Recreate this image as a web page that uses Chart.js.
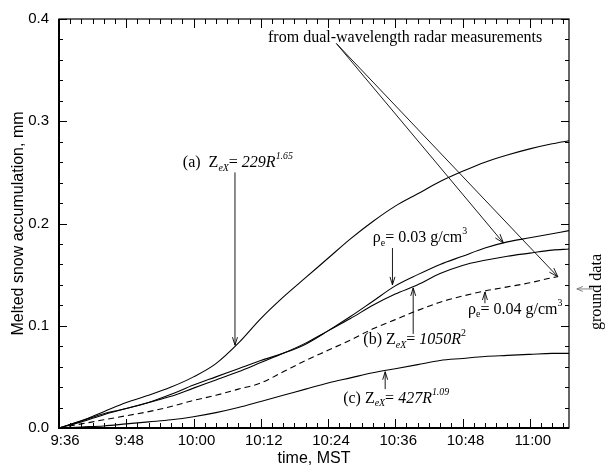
<!DOCTYPE html>
<html><head><meta charset="utf-8">
<script src="https://cdn.jsdelivr.net/npm/chart.js@4"></script>
<style>html,body{margin:0;padding:0;background:#fff}#wrap{width:605px;height:469px;position:relative}</style>
</head><body><div id="wrap"><canvas id="c"></canvas></div>
<script>
// minutes after 9:36 MST
const timeMinutes = [0,4,8,12,16,20,24,28,32,36,40,44,48,52,56,60,64,68,72,76,80,84,88,91];
const timeMinutesDashed = [0,4,8,12,16,20,24,28,32,36,40,44,48,52,56,60,64,68,72,76,80,84,88,89];
const seriesA229 = [0,0.007,0.016,0.025,0.032,0.040,0.050,0.063,0.083,0.107,0.128,0.147,0.166,0.185,0.202,0.217,0.229,0.241,0.251,0.260,0.267,0.273,0.278,0.281];
const seriesRho003 = [0,0.007,0.014,0.019,0.025,0.033,0.042,0.050,0.058,0.066,0.073,0.082,0.095,0.109,0.124,0.139,0.150,0.160,0.168,0.176,0.182,0.186,0.190,0.193];
const seriesB1050 = [0,0.006,0.013,0.019,0.025,0.031,0.039,0.047,0.055,0.064,0.073,0.083,0.095,0.107,0.120,0.131,0.140,0.151,0.159,0.164,0.168,0.171,0.174,0.175];
const seriesRho004 = [0,0.004,0.008,0.012,0.016,0.021,0.027,0.032,0.038,0.044,0.055,0.066,0.076,0.086,0.097,0.106,0.115,0.123,0.129,0.134,0.138,0.142,0.147,0.148];
const seriesC427 = [0,0.001,0.002,0.004,0.006,0.008,0.011,0.015,0.020,0.026,0.032,0.038,0.044,0.049,0.054,0.058,0.062,0.066,0.068,0.070,0.071,0.072,0.073,0.073];
const xTickLabels = ['9:36','9:48','10:00','10:12','10:24','10:36','10:48','11:00'];
const yTickLabels = ['0.0','0.1','0.2','0.3','0.4'];

const SERIF = "'Liberation Serif','Times New Roman',serif";
const SANS = "'Liberation Sans',Arial,Helvetica,sans-serif";

function pts(xs, ys){ return xs.map((t,i)=>({x:t,y:ys[i]})); }

function drawRuns(ctx, x, y, runs, size){
  let cx = x;
  ctx.textAlign='left'; ctx.textBaseline='middle';
  for (const r of runs){
    const sz = r.s ? size*0.62 : size;
    ctx.font = (r.it?'italic ':'') + sz + 'px ' + SERIF;
    const dy = r.s==='sub' ? size*0.32 : r.s==='sup' ? -size*0.4 : 0;
    ctx.fillText(r.t, cx, y+dy);
    cx += ctx.measureText(r.t).width;
  }
  return cx;
}
function arrow(ctx,x1,y1,x2,y2,h,w){
  h=h||7; w=w||2.5;
  ctx.beginPath(); ctx.moveTo(x1,y1); ctx.lineTo(x2,y2); ctx.stroke();
  const a=Math.atan2(y2-y1,x2-x1);
  ctx.beginPath();
  ctx.moveTo(x2-h*Math.cos(a)+w*Math.sin(a), y2-h*Math.sin(a)-w*Math.cos(a));
  ctx.lineTo(x2,y2);
  ctx.lineTo(x2-h*Math.cos(a)-w*Math.sin(a), y2-h*Math.sin(a)+w*Math.cos(a));
  ctx.stroke();
}

// annotation placements (data units: minutes, mm)
const annotations = [
  {x:22.1, y:0.259, runs:[{t:'(a)  Z'},{t:'eX',it:1,s:'sub'},{t:'= '},{t:'229R',it:1},{t:'1.65',it:1,s:'sup'}], arrow:{x:31.4, y1:0.250, y2:0.081}},
  {x:56.0, y:0.186, runs:[{t:'\u03c1'},{t:'e',s:'sub'},{t:'= 0.03 g/cm'},{t:'3',s:'sup'}], arrow:{x:59.5, y1:0.176, y2:0.140}},
  {x:54.3, y:0.086, runs:[{t:'(b) Z'},{t:'eX',it:1,s:'sub'},{t:'= '},{t:'1050R',it:1},{t:'2',s:'sup'}], arrow:{x:63.2, y1:0.092, y2:0.137}},
  {x:73.0, y:0.116, runs:[{t:'\u03c1'},{t:'e',s:'sub'},{t:'= 0.04 g/cm'},{t:'3',s:'sup'}], arrow:{x:76.0, y1:0.122, y2:0.133}},
  {x:50.7, y:0.029, runs:[{t:'(c) Z'},{t:'eX',it:1,s:'sub'},{t:'= '},{t:'427R',it:1},{t:'1.09',it:1,s:'sup'}], arrow:{x:58.2, y1:0.038, y2:0.055}},
  {x:37.3, y:0.382, runs:[{t:'from dual-wavelength radar measurements'}]}
];
const radarArrowStart = {x:49.5, y:0.376};
const radarArrowTips = [{x:79.3, y:0.181},{x:89.0, y:0.148}];
const groundArrow = {x1:95.2, x2:92.4, y:0.136};
const groundText = {x:96.0, y:0.133, t:'ground data'};
const xLabelShift = [6,3,3,3,3,3,3,3];

const overlay = {
  id:'overlay',
  afterDraw(chart){
    const {ctx, chartArea:ca, scales:{x:sx, y:sy}} = chart;
    ctx.save();
    ctx.strokeStyle='#000'; ctx.fillStyle='#000';
    // frame
    ctx.lineWidth=1.2;
    ctx.strokeRect(ca.left, ca.top, ca.right-ca.left, ca.bottom-ca.top);
    ctx.lineWidth=2;
    ctx.beginPath(); ctx.moveTo(ca.left, ca.top); ctx.lineTo(ca.left, ca.bottom); ctx.lineTo(ca.right, ca.bottom); ctx.stroke();
    // ticks
    ctx.lineWidth=1;
    for (let m=0; m<=90; m+=2){
      const px = Math.round(sx.getPixelForValue(m))+0.5;
      const L = (m%12===0)?9:5;
      ctx.beginPath();
      ctx.moveTo(px, ca.bottom); ctx.lineTo(px, ca.bottom-L);
      ctx.moveTo(px, ca.top); ctx.lineTo(px, ca.top+L);
      ctx.stroke();
    }
    for (let k=0; k<=20; k++){
      const py = Math.round(sy.getPixelForValue(k*0.02))+0.5;
      const L = (k%5===0)?8:4;
      ctx.beginPath();
      ctx.moveTo(ca.left, py); ctx.lineTo(ca.left+L, py);
      ctx.moveTo(ca.right, py); ctx.lineTo(ca.right-L, py);
      ctx.stroke();
    }
    // x tick labels
    ctx.font='15px '+SANS; ctx.textAlign='center'; ctx.textBaseline='top';
    xTickLabels.forEach((lab,i)=>{
      ctx.fillText(lab, sx.getPixelForValue(i*12)+xLabelShift[i], ca.bottom+5);
    });
    // annotations
    ctx.lineWidth=0.9;
    for (const a of annotations){
      drawRuns(ctx, sx.getPixelForValue(a.x), sy.getPixelForValue(a.y), a.runs, 16);
      if (a.arrow){
        const ax = sx.getPixelForValue(a.arrow.x);
        arrow(ctx, ax, sy.getPixelForValue(a.arrow.y1), ax, sy.getPixelForValue(a.arrow.y2), 8, 2.5);
      }
    }
    const s0x = sx.getPixelForValue(radarArrowStart.x), s0y = sy.getPixelForValue(radarArrowStart.y);
    for (const t of radarArrowTips){
      arrow(ctx, s0x, s0y, sx.getPixelForValue(t.x), sy.getPixelForValue(t.y), 9, 3);
    }
    ctx.strokeStyle='#777';
    const gy = sy.getPixelForValue(groundArrow.y);
    arrow(ctx, sx.getPixelForValue(groundArrow.x1), gy, sx.getPixelForValue(groundArrow.x2), gy, 6, 2.5);
    ctx.translate(sx.getPixelForValue(groundText.x), sy.getPixelForValue(groundText.y));
    ctx.rotate(-Math.PI/2);
    ctx.font = '16px '+SERIF; ctx.textAlign='center'; ctx.textBaseline='middle';
    ctx.fillText(groundText.t, 0, 0);
    ctx.restore();
  }
};

const lineStyle = {borderColor:'#000', borderWidth:1.1, pointRadius:0, fill:false, cubicInterpolationMode:'monotone'};
new Chart(document.getElementById('c'), {
  type:'line',
  data:{datasets:[
    {label:'(a) 229R^1.65', data:pts(timeMinutes, seriesA229), ...lineStyle},
    {label:'rho 0.03', data:pts(timeMinutes, seriesRho003), ...lineStyle},
    {label:'(b) 1050R^2', data:pts(timeMinutes, seriesB1050), ...lineStyle},
    {label:'rho 0.04', data:pts(timeMinutesDashed, seriesRho004), ...lineStyle, borderDash:[6,4]},
    {label:'(c) 427R^1.09', data:pts(timeMinutes, seriesC427), ...lineStyle}
  ]},
  options:{
    responsive:true, maintainAspectRatio:false, animation:false,
    layout:{padding:{top:15, right:36, left:0, bottom:0}},
    plugins:{legend:{display:false}, tooltip:{enabled:false}},
    scales:{
      x:{type:'linear', min:0, max:91,
        afterFit(s){ s.height=41; },
        grid:{display:false, drawTicks:false}, border:{display:false},
        ticks:{display:false, stepSize:12},
        title:{display:true, text:'time, MST', color:'#000', font:{family:SANS, size:16}, padding:{top:0,bottom:1}}
      },
      y:{type:'linear', min:0, max:0.4,
        afterFit(s){ s.width=59; },
        grid:{display:false, drawTicks:false}, border:{display:false},
        ticks:{stepSize:0.1, padding:10, color:'#000', font:{family:SANS, size:15},
          callback:(v)=> yTickLabels[Math.round(v*10)]},
        title:{display:true, text:'Melted snow accumulation, mm', color:'#000', font:{family:SANS, size:16}, padding:{top:9,bottom:0}}
      }
    }
  },
  plugins:[overlay]
});
</script></body></html>
